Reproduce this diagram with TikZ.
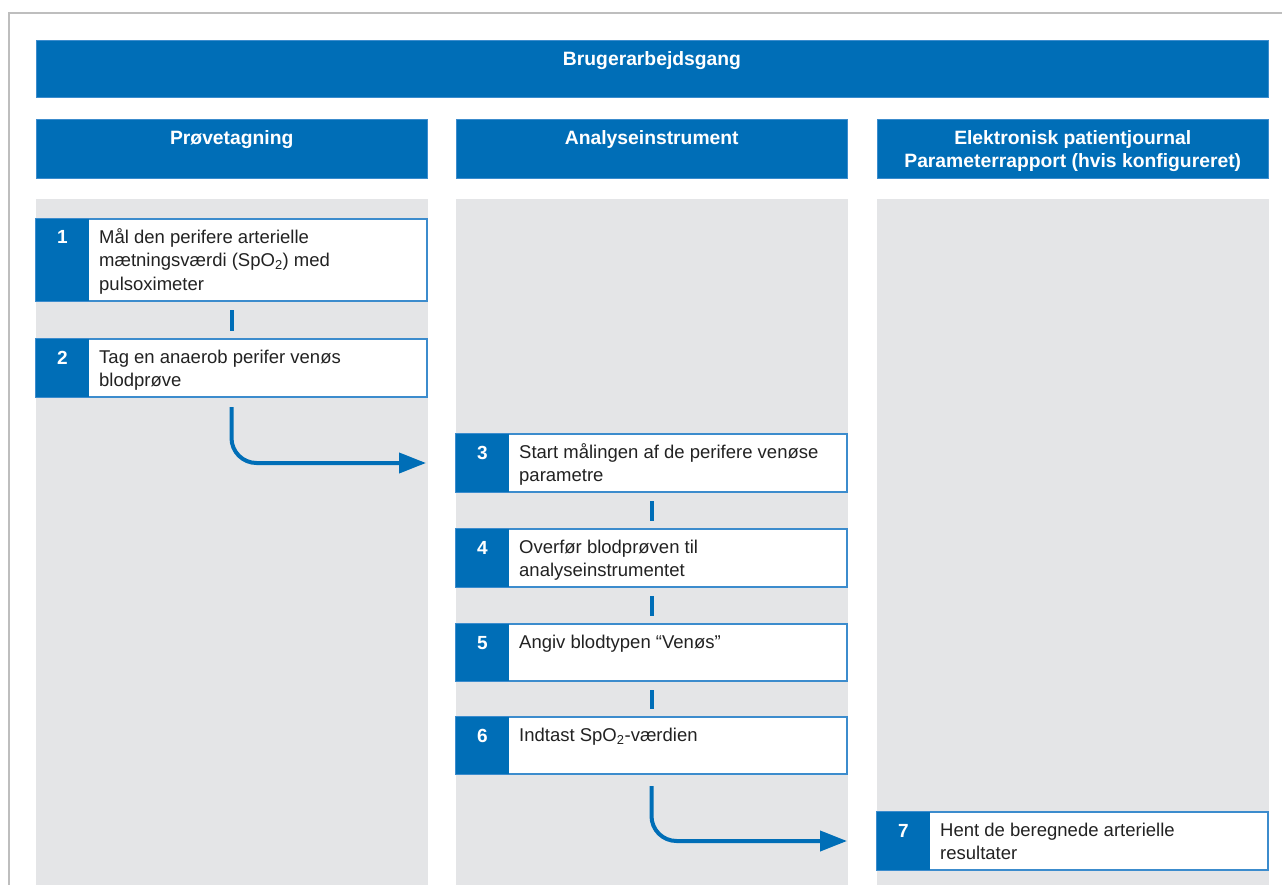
\documentclass[tikz,border=0pt]{standalone}
\usepackage{fontspec}
\setmainfont{Liberation Sans}
\usetikzlibrary{arrows.meta}
\definecolor{rblue}{RGB}{0,110,183}
\definecolor{bline}{RGB}{60,140,205}
\definecolor{lanegray}{RGB}{228,229,231}
\definecolor{framegray}{RGB}{190,190,190}
\definecolor{txt}{RGB}{34,34,34}
\newcommand{\flowstep}[6]{%
  \node[stepbox, minimum height=#4pt] (#1) at (#2,#3) {};
  \fill[rblue] (#1.north west) rectangle ([xshift=53pt]#1.south west);
  \node[numtext] (#1n) at ([xshift=26.5pt,yshift=-25pt]#1.north west) {#5};
  \node[steptext] (#1t) at ([xshift=63pt,yshift=-7.5pt]#1.north west) {\strut #6};
}
\begin{document}
\begin{tikzpicture}[x=1pt,y=-1pt,
  lane/.style={fill=lanegray, draw=none, anchor=north west, minimum width=391.5pt, minimum height=686pt, inner sep=0pt, outer sep=0pt},
  head/.style={fill=rblue, draw=bline, line width=0.6pt, anchor=north west, minimum width=391.5pt, minimum height=59pt, inner sep=0pt, outer sep=0pt},
  headtext/.style={text=white, font=\fontsize{19.3}{23}\selectfont\bfseries, align=center, anchor=north, inner sep=0pt},
  stepbox/.style={fill=white, draw=bline, line width=1.2pt, anchor=north west, minimum width=391pt, inner sep=0pt, outer sep=0pt},
  numtext/.style={text=white, font=\fontsize{19}{23}\selectfont\bfseries, anchor=base, inner sep=0pt},
  steptext/.style={text=txt, font=\fontsize{18.5}{23.5}\selectfont, align=left, anchor=north west, inner sep=0pt},
  bar/.style={draw=rblue, line width=4pt, shorten <=9pt, shorten >=8.5pt},
  flow/.style={draw=rblue, line width=4pt, rounded corners=25pt, -{Triangle[length=27pt,width=20pt]}, shorten >=30pt}
]
\useasboundingbox (0,0) rectangle (1282,885);
\fill[white] (0,0) rectangle (1282,885);
% frame
\coordinate (fa) at (9,885);
\coordinate (fb) at (9,13);
\coordinate (fc) at (1282,13);
\draw[framegray, line width=1.5pt] (fa) -- (fb) -- (fc);
% title
\node[head, minimum width=1232pt, minimum height=57pt] (title) at (36,40) {};
\node[headtext] (titlet) at ([yshift=-8.9pt]title.north) {\strut Brugerarbejdsgang};
% lanes
\node[lane] (lane1) at (36,199) {};
\node[lane] (lane2) at (456,199) {};
\node[lane] (lane3) at (877,199) {};
% headers
\node[head] (h1) at (36,119) {};
\node[head] (h2) at (456,119) {};
\node[head] (h3) at (877,119) {};
\node[headtext] (h1t) at ([yshift=-8.9pt]h1.north) {\strut Prøvetagning};
\node[headtext] (h2t) at ([yshift=-8.9pt]h2.north) {\strut Analyseinstrument};
\node[headtext] (h3t) at ([yshift=-8.9pt]h3.north) {\strut Elektronisk patientjournal\\Parameterrapport (hvis konfigureret)};
% steps
\flowstep{b1}{36}{219}{82}{1}{Mål den perifere arterielle\\mætningsværdi (SpO\textsubscript{2}) med\\pulsoximeter}
\flowstep{b2}{36}{339}{58}{2}{Tag en anaerob perifer venøs\\blodprøve}
\flowstep{b3}{456}{434}{58}{3}{Start målingen af de perifere venøse\\parametre}
\flowstep{b4}{456}{529}{58}{4}{Overfør blodprøven til\\analyseinstrumentet}
\flowstep{b5}{456}{624}{57}{5}{Angiv blodtypen “Venøs”}
\flowstep{b6}{456}{717}{57}{6}{Indtast SpO\textsubscript{2}-værdien}
\flowstep{b7}{877}{812}{58}{7}{Hent de beregnede arterielle\\resultater}
% connectors
\draw[bar] (b1.south) -- (b2.north);
\draw[bar] (b3.south) -- (b4.north);
\draw[bar] (b4.south) -- (b5.north);
\draw[bar] (b5.south) -- (b6.north);
\draw[flow, shorten <=10pt] (b2.south) |- (b3.west);
\draw[flow, shorten <=12pt] (b6.south) |- (b7.west);
\end{tikzpicture}
\end{document}
